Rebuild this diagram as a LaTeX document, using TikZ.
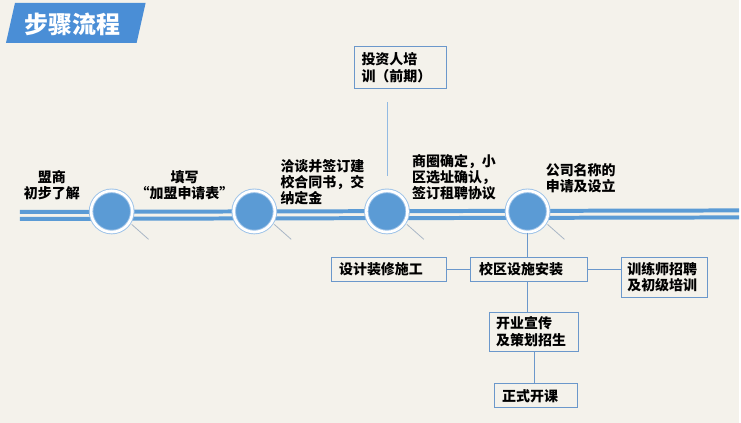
\documentclass[tikz,border=0pt]{standalone}
\usepackage{fontspec}
\setmainfont{Noto Sans CJK SC}
\definecolor{paper}{HTML}{F4F2EB}
\definecolor{hdblue}{HTML}{4A8ED6}
\definecolor{tlblue}{HTML}{5B9BD5}
\definecolor{ringblue}{HTML}{9CC2E8}
\definecolor{boxblue}{HTML}{6B98CB}
\definecolor{pingrey}{HTML}{A9B6C6}
\usepackage{tikz}
\usetikzlibrary{positioning,calc}

\begin{document}
\begin{tikzpicture}[x=0.75pt,y=-0.75pt,
  circ/.style={circle, fill=tlblue, draw=ringblue, double=white, double distance=2pt,
    line width=0.7pt, minimum size=31pt, inner sep=0pt},
  lbl/.style={font=\bfseries\fontsize{10.5}{12}\selectfont, inner sep=0pt},
  stepbox/.style={draw=boxblue, line width=0.8pt, fill=paper, align=left,
    font=\bfseries\fontsize{10.5}{12.5}\selectfont, inner sep=0pt},
  link/.style={boxblue, line width=0.8pt},
  pin/.style={pingrey, line width=0.6pt}]
% Paper
\fill[paper] (0,0) rectangle (741,424);

% Header
\fill[hdblue] (15,3) -- (146,3) -- (137,43) -- (6,43) -- cycle;
\node[text=white, font=\bfseries\fontsize{18}{20}\selectfont] (title) at (73,24) {步骤流程};

% Timeline (double line)
\draw[tlblue, line width=3pt] (20,212.5) -- (741,211);
\draw[tlblue, line width=3pt] (20,219.5) -- (741,218);

% Circles with pins
\foreach \n/\x in {1/112, 2/255, 3/388, 4/529}{
  \draw[pin] (\x,212) ++(20,13) -- ++(17,15);
  \node[circ] (c\n) at (\x,212) {};
}

% Labels above the circles
\node[lbl, align=center] (l1) at (52,186) {盟商\\初步了解};
\node[lbl, align=center] (l2) at (185,186) {填写\\“加盟申请表”};
\node[lbl, align=left, anchor=north west] (l3) at (281,160) {洽谈并签订建\\校合同书，交\\纳定金};
\node[lbl, align=left, anchor=north west] (l4) at (413,155) {商圈确定，小\\区选址确认，\\签订租聘协议};
\node[lbl, align=left, anchor=north west] (l5) at (547,164) {公司名称的\\申请及设立};

% Boxes
\node[stepbox, minimum width=93pt*0.75, minimum height=42pt*0.75, text width=78pt*0.75] (train) at (401.5,68) {投资人培\\训（前期）};
\node[stepbox, minimum width=117pt*0.75, minimum height=24pt*0.75, text width=100pt*0.75] (install) at (530.5,270) {校区设施安装};
\node[stepbox, minimum width=116pt*0.75, minimum height=24pt*0.75, text width=100pt*0.75] (decor) at (390,270) {设计装修施工};
\node[stepbox, minimum width=86pt*0.75, minimum height=40pt*0.75, text width=74pt*0.75] (coach) at (666,278) {训练师招聘\\及初级培训};
\node[stepbox, minimum width=89pt*0.75, minimum height=39pt*0.75, text width=76pt*0.75] (promo) at (535.5,332.5) {开业宣传\\及策划招生};
\node[stepbox, minimum width=83pt*0.75, minimum height=24pt*0.75, text width=68pt*0.75] (open) at (537.5,397) {正式开课};

% Connectors
\draw[ringblue!80!boxblue, line width=1pt, shorten >=11pt] (train.south) ++(-13,13) coordinate (t1) -- (t1 |- c3.north);
\draw[link] (c4.south) -- (c4.south |- install.north);
\draw[link] (decor) -- (install);
\draw[link] (install) -- (coach.west |- install);
\draw[link] (install.south -| c4) -- (promo.north -| c4);
\draw[link] (promo.south) -- (promo.south |- open.north);
\end{tikzpicture}
\end{document}
